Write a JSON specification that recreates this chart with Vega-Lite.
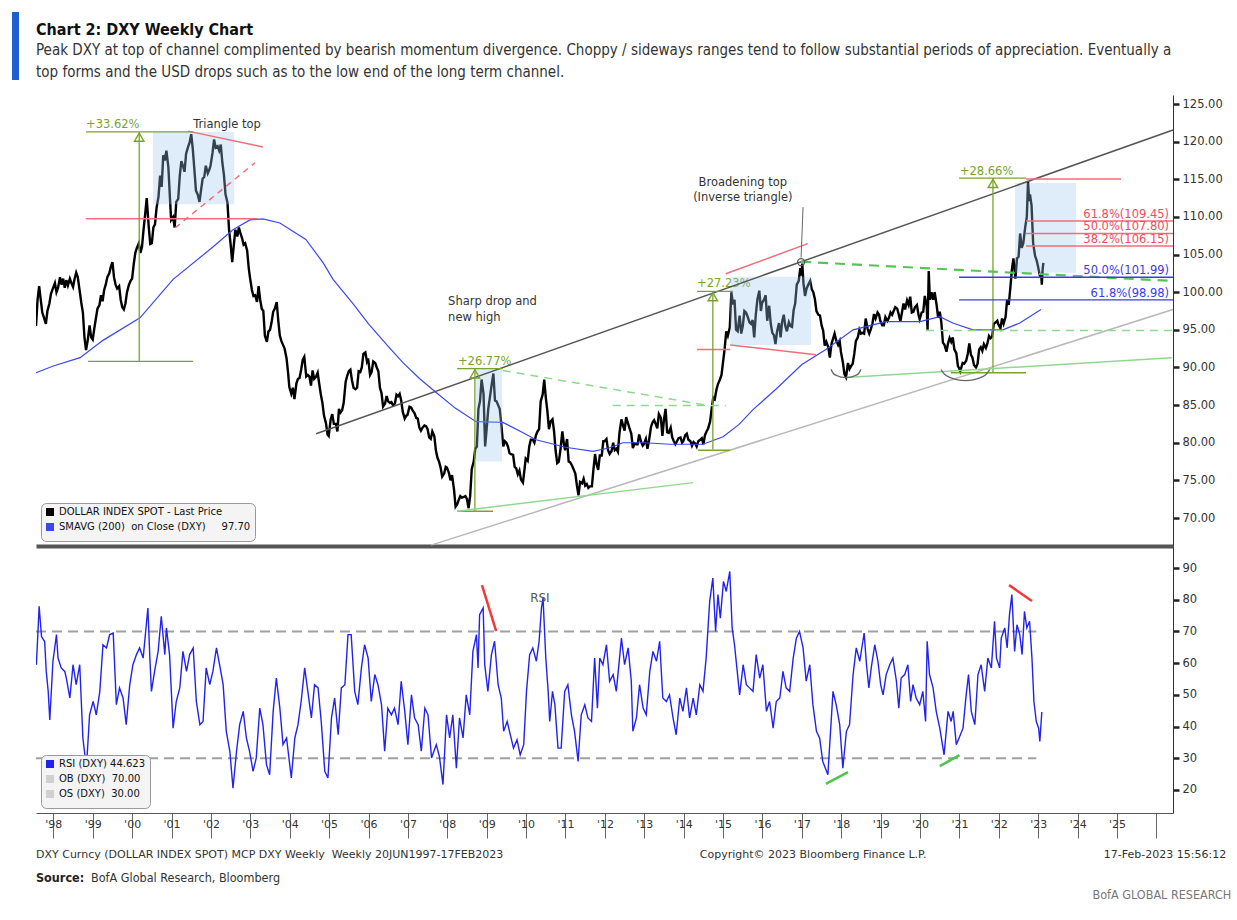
{
"$schema":"https://vega.github.io/schema/vega-lite/v6.json",
"background":"white",
"padding":{"left":12,"top":12,"right":0,"bottom":0},
"config":{"view":{"stroke":null},"font":"DejaVu Sans","axis":{"labelFont":"DejaVu Sans"},"legend":{"labelFont":"DejaVu Sans"}},
"resolve":{"scale":{"color":"independent"},"legend":{"color":"independent"}},
"datasets":{
"price":[{"t":1997.56,"v":95.5},{"t":1997.60,"v":99.0},{"t":1997.64,"v":100.8},{"t":1997.68,"v":99.0},{"t":1997.72,"v":97.3},{"t":1997.77,"v":96.5},{"t":1997.81,"v":95.8},{"t":1997.85,"v":97.5},{"t":1997.90,"v":98.5},{"t":1997.94,"v":99.8},{"t":1997.99,"v":100.5},
{"t":1998.04,"v":101.2},{"t":1998.08,"v":100.0},{"t":1998.12,"v":100.6},{"t":1998.17,"v":102.0},{"t":1998.21,"v":101.0},{"t":1998.25,"v":101.8},{"t":1998.29,"v":100.6},{"t":1998.33,"v":101.6},{"t":1998.37,"v":100.9},{"t":1998.42,"v":101.8},{"t":1998.46,"v":101.2},{"t":1998.50,"v":100.7},{"t":1998.54,"v":101.8},{"t":1998.58,"v":102.6},{"t":1998.62,"v":102.0},{"t":1998.66,"v":100.5},{"t":1998.71,"v":98.6},{"t":1998.75,"v":97.3},{"t":1998.79,"v":94.0},{"t":1998.83,"v":92.3},{"t":1998.87,"v":93.5},{"t":1998.92,"v":95.6},{"t":1998.96,"v":94.0},
{"t":1999.00,"v":93.7},{"t":1999.04,"v":95.2},{"t":1999.08,"v":96.5},{"t":1999.12,"v":97.8},{"t":1999.17,"v":98.3},{"t":1999.21,"v":99.6},{"t":1999.25,"v":98.8},{"t":1999.29,"v":100.3},{"t":1999.33,"v":101.0},{"t":1999.37,"v":102.0},{"t":1999.42,"v":102.5},{"t":1999.46,"v":103.4},{"t":1999.50,"v":104.0},{"t":1999.54,"v":102.0},{"t":1999.58,"v":101.0},{"t":1999.62,"v":100.5},{"t":1999.67,"v":100.8},{"t":1999.71,"v":99.0},{"t":1999.75,"v":98.0},{"t":1999.79,"v":97.7},{"t":1999.83,"v":98.5},{"t":1999.87,"v":100.0},{"t":1999.92,"v":101.0},{"t":1999.96,"v":101.5},
{"t":2000.00,"v":101.8},{"t":2000.04,"v":103.7},{"t":2000.08,"v":105.2},{"t":2000.12,"v":105.9},{"t":2000.17,"v":106.5},{"t":2000.21,"v":105.2},{"t":2000.25,"v":106.0},{"t":2000.29,"v":108.3},{"t":2000.33,"v":110.3},{"t":2000.37,"v":112.5},{"t":2000.42,"v":108.8},{"t":2000.46,"v":106.4},{"t":2000.50,"v":106.5},{"t":2000.54,"v":108.6},{"t":2000.58,"v":109.0},{"t":2000.62,"v":111.2},{"t":2000.67,"v":112.7},{"t":2000.71,"v":115.5},{"t":2000.75,"v":114.0},{"t":2000.79,"v":118.2},{"t":2000.83,"v":117.5},{"t":2000.87,"v":118.8},{"t":2000.92,"v":116.6},{"t":2000.96,"v":112.5},{"t":2000.99,"v":109.6},
{"t":2001.04,"v":110.0},{"t":2001.08,"v":108.6},{"t":2001.12,"v":112.0},{"t":2001.17,"v":112.4},{"t":2001.21,"v":115.5},{"t":2001.25,"v":117.4},{"t":2001.29,"v":116.8},{"t":2001.33,"v":116.0},{"t":2001.37,"v":118.4},{"t":2001.42,"v":119.3},{"t":2001.46,"v":119.9},{"t":2001.50,"v":121.0},{"t":2001.54,"v":119.0},{"t":2001.58,"v":116.3},{"t":2001.62,"v":113.5},{"t":2001.67,"v":112.9},{"t":2001.71,"v":112.0},{"t":2001.75,"v":113.6},{"t":2001.79,"v":115.1},{"t":2001.83,"v":115.3},{"t":2001.87,"v":116.8},{"t":2001.92,"v":115.8},{"t":2001.96,"v":116.3},{"t":2001.99,"v":116.8},
{"t":2002.04,"v":118.5},{"t":2002.08,"v":120.3},{"t":2002.12,"v":119.2},{"t":2002.17,"v":119.4},{"t":2002.21,"v":118.8},{"t":2002.25,"v":119.6},{"t":2002.29,"v":117.2},{"t":2002.33,"v":115.6},{"t":2002.37,"v":113.0},{"t":2002.42,"v":111.9},{"t":2002.46,"v":108.3},{"t":2002.50,"v":106.4},{"t":2002.54,"v":104.0},{"t":2002.58,"v":106.2},{"t":2002.62,"v":108.3},{"t":2002.67,"v":107.4},{"t":2002.71,"v":108.6},{"t":2002.75,"v":107.8},{"t":2002.79,"v":107.2},{"t":2002.83,"v":106.3},{"t":2002.87,"v":106.5},{"t":2002.92,"v":105.5},{"t":2002.96,"v":103.2},{"t":2002.99,"v":102.0},
{"t":2003.04,"v":100.3},{"t":2003.08,"v":99.5},{"t":2003.12,"v":99.6},{"t":2003.17,"v":98.7},{"t":2003.21,"v":100.8},{"t":2003.25,"v":99.0},{"t":2003.29,"v":97.8},{"t":2003.33,"v":97.5},{"t":2003.37,"v":94.2},{"t":2003.42,"v":93.4},{"t":2003.46,"v":94.8},{"t":2003.50,"v":95.0},{"t":2003.54,"v":96.0},{"t":2003.58,"v":97.4},{"t":2003.62,"v":97.8},{"t":2003.67,"v":98.7},{"t":2003.71,"v":96.2},{"t":2003.75,"v":94.2},{"t":2003.79,"v":93.5},{"t":2003.83,"v":93.0},{"t":2003.87,"v":92.5},{"t":2003.92,"v":91.2},{"t":2003.96,"v":89.2},{"t":2003.99,"v":87.4},
{"t":2004.04,"v":86.5},{"t":2004.08,"v":87.3},{"t":2004.12,"v":85.8},{"t":2004.17,"v":87.9},{"t":2004.21,"v":88.5},{"t":2004.25,"v":88.6},{"t":2004.29,"v":89.7},{"t":2004.33,"v":91.0},{"t":2004.37,"v":91.4},{"t":2004.42,"v":88.8},{"t":2004.46,"v":89.0},{"t":2004.50,"v":88.8},{"t":2004.54,"v":87.6},{"t":2004.58,"v":89.6},{"t":2004.62,"v":88.5},{"t":2004.67,"v":88.8},{"t":2004.71,"v":89.3},{"t":2004.75,"v":87.8},{"t":2004.79,"v":86.4},{"t":2004.83,"v":85.3},{"t":2004.87,"v":83.6},{"t":2004.92,"v":82.6},{"t":2004.96,"v":81.1},{"t":2004.99,"v":80.9},
{"t":2005.04,"v":83.1},{"t":2005.08,"v":83.8},{"t":2005.12,"v":82.5},{"t":2005.17,"v":82.5},{"t":2005.21,"v":81.5},{"t":2005.25,"v":84.5},{"t":2005.29,"v":84.0},{"t":2005.33,"v":84.3},{"t":2005.37,"v":85.3},{"t":2005.42,"v":88.1},{"t":2005.46,"v":88.9},{"t":2005.50,"v":89.5},{"t":2005.54,"v":89.7},{"t":2005.58,"v":88.3},{"t":2005.62,"v":87.3},{"t":2005.67,"v":87.1},{"t":2005.71,"v":87.3},{"t":2005.75,"v":89.5},{"t":2005.79,"v":89.4},{"t":2005.83,"v":90.0},{"t":2005.87,"v":91.8},{"t":2005.92,"v":92.0},{"t":2005.96,"v":90.8},{"t":2005.99,"v":91.2},
{"t":2006.04,"v":89.0},{"t":2006.08,"v":89.4},{"t":2006.12,"v":90.8},{"t":2006.17,"v":90.6},{"t":2006.21,"v":90.0},{"t":2006.25,"v":89.5},{"t":2006.29,"v":87.3},{"t":2006.33,"v":86.6},{"t":2006.37,"v":84.8},{"t":2006.42,"v":85.2},{"t":2006.46,"v":86.2},{"t":2006.50,"v":85.5},{"t":2006.54,"v":85.3},{"t":2006.58,"v":85.4},{"t":2006.62,"v":85.0},{"t":2006.67,"v":85.2},{"t":2006.71,"v":86.4},{"t":2006.75,"v":86.2},{"t":2006.79,"v":86.5},{"t":2006.83,"v":85.6},{"t":2006.87,"v":84.1},{"t":2006.92,"v":83.2},{"t":2006.96,"v":83.6},{"t":2006.99,"v":83.7},
{"t":2007.04,"v":84.8},{"t":2007.08,"v":84.7},{"t":2007.12,"v":84.3},{"t":2007.17,"v":83.9},{"t":2007.21,"v":83.3},{"t":2007.25,"v":83.2},{"t":2007.29,"v":82.0},{"t":2007.33,"v":81.6},{"t":2007.37,"v":82.0},{"t":2007.42,"v":82.3},{"t":2007.46,"v":82.2},{"t":2007.50,"v":81.8},{"t":2007.54,"v":80.7},{"t":2007.58,"v":80.5},{"t":2007.62,"v":81.5},{"t":2007.67,"v":80.9},{"t":2007.71,"v":79.0},{"t":2007.75,"v":78.0},{"t":2007.79,"v":77.5},{"t":2007.83,"v":76.7},{"t":2007.87,"v":75.5},{"t":2007.92,"v":75.9},{"t":2007.96,"v":76.8},{"t":2007.99,"v":76.7},
{"t":2008.04,"v":76.0},{"t":2008.08,"v":75.0},{"t":2008.12,"v":75.7},{"t":2008.17,"v":73.8},{"t":2008.21,"v":71.5},{"t":2008.25,"v":71.8},{"t":2008.29,"v":72.4},{"t":2008.33,"v":72.9},{"t":2008.37,"v":72.7},{"t":2008.42,"v":72.8},{"t":2008.46,"v":72.9},{"t":2008.50,"v":72.5},{"t":2008.54,"v":71.3},{"t":2008.58,"v":72.9},{"t":2008.62,"v":76.5},{"t":2008.67,"v":77.5},{"t":2008.71,"v":79.2},{"t":2008.75,"v":79.5},{"t":2008.79,"v":84.5},{"t":2008.83,"v":85.5},{"t":2008.87,"v":88.4},{"t":2008.92,"v":86.5},{"t":2008.96,"v":79.5},{"t":2008.99,"v":81.3},
{"t":2009.04,"v":84.5},{"t":2009.08,"v":86.0},{"t":2009.12,"v":87.5},{"t":2009.17,"v":89.2},{"t":2009.21,"v":85.6},{"t":2009.25,"v":85.5},{"t":2009.29,"v":85.0},{"t":2009.33,"v":84.5},{"t":2009.37,"v":82.5},{"t":2009.42,"v":79.5},{"t":2009.46,"v":80.2},{"t":2009.50,"v":80.0},{"t":2009.54,"v":79.5},{"t":2009.58,"v":78.6},{"t":2009.62,"v":78.5},{"t":2009.67,"v":78.4},{"t":2009.71,"v":76.8},{"t":2009.75,"v":76.6},{"t":2009.79,"v":75.8},{"t":2009.83,"v":76.3},{"t":2009.87,"v":75.1},{"t":2009.92,"v":74.7},{"t":2009.96,"v":76.5},{"t":2009.99,"v":77.9},
{"t":2010.04,"v":77.6},{"t":2010.08,"v":79.5},{"t":2010.12,"v":80.4},{"t":2010.17,"v":80.4},{"t":2010.21,"v":80.0},{"t":2010.25,"v":81.0},{"t":2010.29,"v":81.5},{"t":2010.33,"v":81.8},{"t":2010.37,"v":85.5},{"t":2010.42,"v":86.4},{"t":2010.46,"v":88.4},{"t":2010.50,"v":86.0},{"t":2010.54,"v":84.2},{"t":2010.58,"v":81.8},{"t":2010.62,"v":82.8},{"t":2010.67,"v":83.1},{"t":2010.71,"v":81.5},{"t":2010.75,"v":78.9},{"t":2010.79,"v":77.3},{"t":2010.83,"v":77.5},{"t":2010.87,"v":79.0},{"t":2010.92,"v":81.5},{"t":2010.96,"v":79.8},{"t":2010.99,"v":79.0},
{"t":2011.04,"v":80.5},{"t":2011.08,"v":77.5},{"t":2011.12,"v":77.4},{"t":2011.17,"v":76.9},{"t":2011.21,"v":76.4},{"t":2011.25,"v":75.9},{"t":2011.29,"v":74.3},{"t":2011.33,"v":73.0},{"t":2011.37,"v":74.8},{"t":2011.42,"v":74.6},{"t":2011.46,"v":75.2},{"t":2011.50,"v":74.3},{"t":2011.54,"v":74.5},{"t":2011.58,"v":74.0},{"t":2011.62,"v":74.2},{"t":2011.67,"v":74.2},{"t":2011.71,"v":76.5},{"t":2011.75,"v":78.5},{"t":2011.79,"v":77.1},{"t":2011.83,"v":76.4},{"t":2011.87,"v":78.3},{"t":2011.92,"v":78.3},{"t":2011.96,"v":80.2},{"t":2011.99,"v":80.2},
{"t":2012.04,"v":80.5},{"t":2012.08,"v":79.0},{"t":2012.12,"v":78.5},{"t":2012.17,"v":78.9},{"t":2012.21,"v":80.0},{"t":2012.25,"v":79.0},{"t":2012.29,"v":79.2},{"t":2012.33,"v":78.8},{"t":2012.37,"v":81.3},{"t":2012.42,"v":83.1},{"t":2012.46,"v":82.3},{"t":2012.50,"v":81.6},{"t":2012.54,"v":83.4},{"t":2012.58,"v":82.7},{"t":2012.62,"v":82.0},{"t":2012.67,"v":81.2},{"t":2012.71,"v":79.3},{"t":2012.75,"v":79.9},{"t":2012.79,"v":79.8},{"t":2012.83,"v":79.8},{"t":2012.87,"v":81.1},{"t":2012.92,"v":80.1},{"t":2012.96,"v":79.6},{"t":2012.99,"v":79.8},
{"t":2013.04,"v":80.5},{"t":2013.08,"v":79.2},{"t":2013.12,"v":80.3},{"t":2013.17,"v":82.1},{"t":2013.21,"v":82.7},{"t":2013.25,"v":83.0},{"t":2013.29,"v":82.5},{"t":2013.33,"v":81.9},{"t":2013.37,"v":83.8},{"t":2013.42,"v":83.3},{"t":2013.46,"v":80.9},{"t":2013.50,"v":83.1},{"t":2013.54,"v":84.5},{"t":2013.58,"v":81.4},{"t":2013.62,"v":81.3},{"t":2013.67,"v":82.0},{"t":2013.71,"v":80.7},{"t":2013.75,"v":80.2},{"t":2013.79,"v":79.8},{"t":2013.83,"v":80.2},{"t":2013.87,"v":80.6},{"t":2013.92,"v":80.7},{"t":2013.96,"v":80.0},{"t":2013.99,"v":80.2},
{"t":2014.04,"v":81.0},{"t":2014.08,"v":81.2},{"t":2014.12,"v":80.4},{"t":2014.17,"v":80.2},{"t":2014.21,"v":79.6},{"t":2014.25,"v":80.1},{"t":2014.29,"v":79.9},{"t":2014.33,"v":79.5},{"t":2014.37,"v":80.2},{"t":2014.42,"v":80.4},{"t":2014.46,"v":80.6},{"t":2014.50,"v":79.8},{"t":2014.54,"v":81.0},{"t":2014.58,"v":81.5},{"t":2014.62,"v":81.9},{"t":2014.67,"v":82.8},{"t":2014.71,"v":84.5},{"t":2014.75,"v":86.0},{"t":2014.79,"v":85.8},{"t":2014.83,"v":87.0},{"t":2014.87,"v":87.8},{"t":2014.92,"v":88.4},{"t":2014.96,"v":89.0},{"t":2014.99,"v":90.3},
{"t":2015.04,"v":92.5},{"t":2015.08,"v":94.8},{"t":2015.12,"v":94.2},{"t":2015.17,"v":95.3},{"t":2015.21,"v":100.0},{"t":2015.25,"v":98.4},{"t":2015.29,"v":99.0},{"t":2015.33,"v":95.0},{"t":2015.37,"v":94.8},{"t":2015.42,"v":96.9},{"t":2015.46,"v":94.5},{"t":2015.50,"v":95.5},{"t":2015.54,"v":97.5},{"t":2015.58,"v":97.3},{"t":2015.62,"v":96.8},{"t":2015.67,"v":96.0},{"t":2015.71,"v":95.8},{"t":2015.75,"v":96.3},{"t":2015.79,"v":94.0},{"t":2015.83,"v":97.0},{"t":2015.87,"v":99.0},{"t":2015.92,"v":100.2},{"t":2015.96,"v":97.5},{"t":2015.99,"v":98.6},
{"t":2016.04,"v":99.0},{"t":2016.08,"v":99.6},{"t":2016.12,"v":96.2},{"t":2016.17,"v":98.2},{"t":2016.21,"v":95.8},{"t":2016.25,"v":94.6},{"t":2016.29,"v":94.3},{"t":2016.33,"v":93.1},{"t":2016.37,"v":94.8},{"t":2016.42,"v":95.9},{"t":2016.46,"v":94.0},{"t":2016.50,"v":96.1},{"t":2016.54,"v":97.0},{"t":2016.58,"v":95.5},{"t":2016.62,"v":94.8},{"t":2016.67,"v":96.0},{"t":2016.71,"v":95.5},{"t":2016.75,"v":95.4},{"t":2016.79,"v":97.6},{"t":2016.83,"v":98.5},{"t":2016.87,"v":101.0},{"t":2016.92,"v":101.5},{"t":2016.96,"v":103.2},{"t":2016.99,"v":102.2},
{"t":2017.01,"v":103.8},{"t":2017.04,"v":101.2},{"t":2017.08,"v":99.5},{"t":2017.12,"v":100.5},{"t":2017.17,"v":101.1},{"t":2017.21,"v":101.5},{"t":2017.25,"v":100.4},{"t":2017.29,"v":100.0},{"t":2017.33,"v":99.1},{"t":2017.37,"v":97.5},{"t":2017.42,"v":97.0},{"t":2017.46,"v":96.9},{"t":2017.50,"v":95.6},{"t":2017.54,"v":94.9},{"t":2017.58,"v":92.9},{"t":2017.62,"v":93.4},{"t":2017.67,"v":92.7},{"t":2017.71,"v":91.3},{"t":2017.75,"v":93.1},{"t":2017.79,"v":93.8},{"t":2017.83,"v":94.5},{"t":2017.87,"v":93.6},{"t":2017.92,"v":93.0},{"t":2017.96,"v":93.5},{"t":2017.99,"v":92.1},
{"t":2018.04,"v":90.7},{"t":2018.08,"v":89.1},{"t":2018.12,"v":88.7},{"t":2018.17,"v":90.6},{"t":2018.21,"v":89.8},{"t":2018.25,"v":90.2},{"t":2018.29,"v":90.5},{"t":2018.33,"v":91.8},{"t":2018.37,"v":93.5},{"t":2018.42,"v":94.0},{"t":2018.46,"v":95.0},{"t":2018.50,"v":94.5},{"t":2018.54,"v":94.6},{"t":2018.58,"v":94.5},{"t":2018.62,"v":96.5},{"t":2018.67,"v":95.1},{"t":2018.71,"v":94.5},{"t":2018.75,"v":95.1},{"t":2018.79,"v":95.8},{"t":2018.83,"v":97.1},{"t":2018.87,"v":96.5},{"t":2018.92,"v":97.3},{"t":2018.96,"v":97.0},{"t":2018.99,"v":96.2},
{"t":2019.04,"v":95.6},{"t":2019.08,"v":95.6},{"t":2019.12,"v":96.7},{"t":2019.17,"v":96.2},{"t":2019.21,"v":96.6},{"t":2019.25,"v":97.3},{"t":2019.29,"v":97.0},{"t":2019.33,"v":97.5},{"t":2019.37,"v":98.0},{"t":2019.42,"v":97.8},{"t":2019.46,"v":97.0},{"t":2019.50,"v":96.1},{"t":2019.54,"v":97.3},{"t":2019.58,"v":98.5},{"t":2019.62,"v":97.7},{"t":2019.67,"v":98.9},{"t":2019.71,"v":98.3},{"t":2019.75,"v":99.4},{"t":2019.79,"v":97.3},{"t":2019.83,"v":97.4},{"t":2019.87,"v":98.0},{"t":2019.92,"v":98.3},{"t":2019.96,"v":97.0},{"t":2019.99,"v":96.4},
{"t":2020.04,"v":97.3},{"t":2020.08,"v":97.4},{"t":2020.12,"v":99.5},{"t":2020.17,"v":98.1},{"t":2020.19,"v":95.0},{"t":2020.22,"v":102.8},{"t":2020.25,"v":99.0},{"t":2020.29,"v":100.0},{"t":2020.33,"v":99.0},{"t":2020.37,"v":100.0},{"t":2020.42,"v":98.3},{"t":2020.46,"v":96.6},{"t":2020.50,"v":97.4},{"t":2020.54,"v":96.0},{"t":2020.58,"v":93.3},{"t":2020.62,"v":93.0},{"t":2020.67,"v":92.1},{"t":2020.71,"v":93.2},{"t":2020.75,"v":93.9},{"t":2020.79,"v":93.4},{"t":2020.83,"v":94.0},{"t":2020.87,"v":92.4},{"t":2020.92,"v":91.9},{"t":2020.96,"v":90.2},{"t":2020.99,"v":89.9},
{"t":2021.02,"v":89.5},{"t":2021.08,"v":90.6},{"t":2021.12,"v":90.5},{"t":2021.17,"v":90.9},{"t":2021.21,"v":91.8},{"t":2021.25,"v":93.2},{"t":2021.29,"v":91.7},{"t":2021.33,"v":91.3},{"t":2021.37,"v":90.3},{"t":2021.42,"v":90.0},{"t":2021.46,"v":90.5},{"t":2021.50,"v":92.4},{"t":2021.54,"v":92.7},{"t":2021.58,"v":92.2},{"t":2021.62,"v":93.1},{"t":2021.67,"v":92.6},{"t":2021.71,"v":93.2},{"t":2021.75,"v":94.2},{"t":2021.79,"v":93.9},{"t":2021.83,"v":94.1},{"t":2021.87,"v":95.8},{"t":2021.92,"v":96.0},{"t":2021.96,"v":96.2},{"t":2021.99,"v":95.7},
{"t":2022.04,"v":95.2},{"t":2022.08,"v":96.5},{"t":2022.12,"v":95.8},{"t":2022.17,"v":96.7},{"t":2022.21,"v":99.0},{"t":2022.25,"v":98.3},{"t":2022.29,"v":100.5},{"t":2022.33,"v":103.0},{"t":2022.37,"v":104.5},{"t":2022.42,"v":101.8},{"t":2022.46,"v":104.5},{"t":2022.50,"v":104.7},{"t":2022.54,"v":107.8},{"t":2022.58,"v":105.9},{"t":2022.62,"v":106.5},{"t":2022.67,"v":108.7},{"t":2022.71,"v":110.0},{"t":2022.74,"v":114.7},{"t":2022.77,"v":112.1},{"t":2022.79,"v":113.0},{"t":2022.83,"v":111.5},{"t":2022.87,"v":106.5},{"t":2022.92,"v":104.8},{"t":2022.96,"v":104.2},{"t":2022.99,"v":103.5},
{"t":2023.04,"v":102.2},{"t":2023.08,"v":101.9},{"t":2023.09,"v":101.0},{"t":2023.11,"v":103.0},{"t":2023.13,"v":103.9}],
"sma":[{"t":1997.56,"v":89.3},{"t":1998.0,"v":90.2},{"t":1998.68,"v":91.3},{"t":1999.26,"v":93.6},{"t":2000.2,"v":96.6},{"t":2001.04,"v":101.7},{"t":2002.05,"v":106.0},{"t":2002.56,"v":108.3},{"t":2002.99,"v":109.6},{"t":2003.32,"v":109.75},{"t":2003.75,"v":109.2},{"t":2004.41,"v":107.0},{"t":2004.85,"v":103.9},{"t":2005.1,"v":101.7},{"t":2005.6,"v":98.5},{"t":2006.0,"v":95.8},{"t":2006.5,"v":92.8},{"t":2006.88,"v":90.6},{"t":2007.3,"v":88.5},{"t":2007.71,"v":86.7},{"t":2008.2,"v":84.6},{"t":2008.73,"v":82.8},{"t":2009.41,"v":82.7},{"t":2009.9,"v":81.4},{"t":2010.25,"v":80.4},{"t":2011.0,"v":79.4},{"t":2011.7,"v":78.85},{"t":2012.1,"v":79.3},{"t":2012.46,"v":80.0},{"t":2013.0,"v":80.0},{"t":2013.65,"v":79.8},{"t":2014.49,"v":79.8},{"t":2015.0,"v":80.8},{"t":2015.4,"v":82.4},{"t":2015.76,"v":84.4},{"t":2016.34,"v":87.1},{"t":2017.0,"v":90.4},{"t":2017.61,"v":92.4},{"t":2018.3,"v":95.0},{"t":2019.13,"v":96.1},{"t":2020.0,"v":96.1},{"t":2020.5,"v":96.75},{"t":2020.83,"v":95.9},{"t":2021.34,"v":95.0},{"t":2022.1,"v":95.0},{"t":2022.53,"v":95.9},{"t":2023.07,"v":97.7}],
"rsi":[{"t":1997.57,"v":59.5},{"t":1997.64,"v":77.9},{"t":1997.70,"v":68.4},{"t":1997.78,"v":66.8},{"t":1997.82,"v":57.4},{"t":1997.87,"v":51.1},{"t":1997.91,"v":42.1},{"t":1997.99,"v":60.6},{"t":1998.08,"v":69.0},{"t":1998.12,"v":61.6},{"t":1998.20,"v":58.5},{"t":1998.29,"v":57.4},{"t":1998.33,"v":55.3},{"t":1998.42,"v":49.0},{"t":1998.50,"v":59.5},{"t":1998.58,"v":53.2},{"t":1998.67,"v":59.5},{"t":1998.75,"v":36.4},{"t":1998.84,"v":27.0},{"t":1998.92,"v":43.7},{"t":1999.01,"v":47.9},{"t":1999.09,"v":43.7},{"t":1999.18,"v":51.1},{"t":1999.26,"v":65.8},{"t":1999.35,"v":64.8},{"t":1999.43,"v":69.0},{"t":1999.52,"v":69.5},{"t":1999.60,"v":46.9},{"t":1999.68,"v":52.2},{"t":1999.77,"v":49.0},{"t":1999.85,"v":40.6},{"t":1999.94,"v":53.2},{"t":2000.02,"v":59.5},{"t":2000.11,"v":62.7},{"t":2000.19,"v":64.8},{"t":2000.28,"v":61.6},{"t":2000.40,"v":77.4},{"t":2000.45,"v":61.6},{"t":2000.49,"v":51.1},{"t":2000.57,"v":57.4},{"t":2000.66,"v":63.7},{"t":2000.74,"v":74.8},{"t":2000.83,"v":62.7},{"t":2000.87,"v":71.1},{"t":2000.95,"v":62.7},{"t":2001.04,"v":39.5},{"t":2001.12,"v":47.9},{"t":2001.21,"v":52.2},{"t":2001.29,"v":63.7},{"t":2001.38,"v":57.4},{"t":2001.46,"v":62.7},{"t":2001.55,"v":64.8},{"t":2001.63,"v":47.9},{"t":2001.72,"v":40.6},{"t":2001.80,"v":41.6},{"t":2001.88,"v":58.5},{"t":2001.97,"v":53.2},{"t":2002.05,"v":57.4},{"t":2002.14,"v":64.8},{"t":2002.22,"v":59.5},{"t":2002.31,"v":53.2},{"t":2002.39,"v":38.5},{"t":2002.48,"v":32.2},{"t":2002.56,"v":20.6},{"t":2002.65,"v":32.2},{"t":2002.73,"v":40.6},{"t":2002.82,"v":44.8},{"t":2002.90,"v":36.4},{"t":2002.98,"v":32.2},{"t":2003.07,"v":25.9},{"t":2003.15,"v":30.1},{"t":2003.24,"v":45.8},{"t":2003.32,"v":40.6},{"t":2003.41,"v":28.0},{"t":2003.49,"v":24.8},{"t":2003.58,"v":44.8},{"t":2003.66,"v":55.3},{"t":2003.75,"v":45.8},{"t":2003.83,"v":34.3},{"t":2003.92,"v":36.4},{"t":2004.04,"v":23.8},{"t":2004.13,"v":36.4},{"t":2004.21,"v":40.6},{"t":2004.29,"v":47.9},{"t":2004.38,"v":58.5},{"t":2004.46,"v":51.1},{"t":2004.55,"v":42.7},{"t":2004.63,"v":53.2},{"t":2004.72,"v":52.2},{"t":2004.80,"v":41.6},{"t":2004.89,"v":25.9},{"t":2004.97,"v":23.8},{"t":2005.06,"v":42.7},{"t":2005.14,"v":49.0},{"t":2005.23,"v":37.4},{"t":2005.31,"v":52.2},{"t":2005.40,"v":53.2},{"t":2005.48,"v":69.0},{"t":2005.56,"v":69.0},{"t":2005.65,"v":51.1},{"t":2005.73,"v":46.9},{"t":2005.82,"v":58.5},{"t":2005.90,"v":65.8},{"t":2005.99,"v":61.6},{"t":2006.07,"v":47.9},{"t":2006.16,"v":56.4},{"t":2006.24,"v":53.2},{"t":2006.33,"v":46.9},{"t":2006.41,"v":32.2},{"t":2006.49,"v":45.8},{"t":2006.58,"v":43.7},{"t":2006.66,"v":45.8},{"t":2006.75,"v":40.6},{"t":2006.83,"v":54.3},{"t":2006.92,"v":44.8},{"t":2007.00,"v":34.3},{"t":2007.09,"v":50.0},{"t":2007.17,"v":42.7},{"t":2007.26,"v":40.6},{"t":2007.34,"v":32.2},{"t":2007.43,"v":45.8},{"t":2007.51,"v":43.7},{"t":2007.60,"v":30.1},{"t":2007.72,"v":34.3},{"t":2007.80,"v":30.5},{"t":2007.89,"v":21.7},{"t":2007.98,"v":43.7},{"t":2008.06,"v":36.4},{"t":2008.14,"v":43.7},{"t":2008.23,"v":26.9},{"t":2008.31,"v":42.7},{"t":2008.40,"v":36.4},{"t":2008.48,"v":50.0},{"t":2008.57,"v":43.7},{"t":2008.65,"v":63.7},{"t":2008.74,"v":69.0},{"t":2008.78,"v":58.5},{"t":2008.82,"v":75.3},{"t":2008.91,"v":77.4},{"t":2008.95,"v":59.5},{"t":2009.03,"v":51.1},{"t":2009.12,"v":62.7},{"t":2009.20,"v":66.9},{"t":2009.29,"v":53.2},{"t":2009.37,"v":49.0},{"t":2009.43,"v":38.5},{"t":2009.52,"v":41.6},{"t":2009.60,"v":37.4},{"t":2009.68,"v":33.2},{"t":2009.77,"v":35.8},{"t":2009.85,"v":31.1},{"t":2009.94,"v":34.3},{"t":2010.01,"v":51.1},{"t":2010.09,"v":62.7},{"t":2010.17,"v":64.8},{"t":2010.26,"v":60.6},{"t":2010.33,"v":66.9},{"t":2010.39,"v":77.4},{"t":2010.43,"v":80.5},{"t":2010.50,"v":61.6},{"t":2010.56,"v":51.1},{"t":2010.60,"v":41.6},{"t":2010.67,"v":51.1},{"t":2010.73,"v":46.9},{"t":2010.81,"v":33.2},{"t":2010.89,"v":33.2},{"t":2010.98,"v":51.1},{"t":2011.06,"v":53.2},{"t":2011.15,"v":43.7},{"t":2011.23,"v":38.5},{"t":2011.32,"v":29.0},{"t":2011.40,"v":43.7},{"t":2011.49,"v":46.9},{"t":2011.57,"v":42.7},{"t":2011.66,"v":41.6},{"t":2011.74,"v":61.6},{"t":2011.81,"v":45.8},{"t":2011.87,"v":61.6},{"t":2011.95,"v":59.5},{"t":2012.04,"v":65.8},{"t":2012.12,"v":54.3},{"t":2012.21,"v":56.4},{"t":2012.29,"v":51.1},{"t":2012.42,"v":67.9},{"t":2012.50,"v":59.5},{"t":2012.59,"v":64.8},{"t":2012.67,"v":54.3},{"t":2012.71,"v":38.5},{"t":2012.80,"v":42.7},{"t":2012.88,"v":53.2},{"t":2012.97,"v":45.8},{"t":2013.05,"v":43.7},{"t":2013.14,"v":57.4},{"t":2013.22,"v":63.7},{"t":2013.31,"v":60.6},{"t":2013.39,"v":66.9},{"t":2013.47,"v":49.0},{"t":2013.56,"v":47.9},{"t":2013.64,"v":50.0},{"t":2013.73,"v":42.7},{"t":2013.81,"v":37.4},{"t":2013.90,"v":49.0},{"t":2013.98,"v":44.8},{"t":2014.07,"v":52.2},{"t":2014.15,"v":42.7},{"t":2014.24,"v":49.0},{"t":2014.32,"v":43.7},{"t":2014.41,"v":53.2},{"t":2014.49,"v":51.1},{"t":2014.57,"v":61.6},{"t":2014.66,"v":79.5},{"t":2014.74,"v":86.8},{"t":2014.81,"v":70.0},{"t":2014.87,"v":81.6},{"t":2014.93,"v":74.2},{"t":2015.01,"v":85.8},{"t":2015.08,"v":82.6},{"t":2015.17,"v":88.9},{"t":2015.23,"v":71.1},{"t":2015.29,"v":65.8},{"t":2015.35,"v":58.5},{"t":2015.42,"v":50.0},{"t":2015.51,"v":59.5},{"t":2015.59,"v":53.2},{"t":2015.67,"v":52.2},{"t":2015.76,"v":51.1},{"t":2015.84,"v":62.7},{"t":2015.93,"v":55.3},{"t":2016.01,"v":59.5},{"t":2016.10,"v":44.8},{"t":2016.18,"v":47.9},{"t":2016.27,"v":39.5},{"t":2016.35,"v":47.9},{"t":2016.44,"v":49.0},{"t":2016.52,"v":57.4},{"t":2016.60,"v":52.2},{"t":2016.69,"v":51.1},{"t":2016.78,"v":61.6},{"t":2016.86,"v":67.9},{"t":2016.94,"v":70.0},{"t":2017.03,"v":64.8},{"t":2017.11,"v":54.3},{"t":2017.20,"v":59.5},{"t":2017.28,"v":46.9},{"t":2017.37,"v":38.5},{"t":2017.45,"v":36.4},{"t":2017.53,"v":29.0},{"t":2017.66,"v":24.8},{"t":2017.79,"v":51.1},{"t":2017.87,"v":46.9},{"t":2017.96,"v":40.6},{"t":2018.04,"v":26.9},{"t":2018.13,"v":38.5},{"t":2018.21,"v":40.6},{"t":2018.30,"v":56.4},{"t":2018.38,"v":64.8},{"t":2018.47,"v":60.6},{"t":2018.58,"v":69.5},{"t":2018.64,"v":59.5},{"t":2018.70,"v":52.2},{"t":2018.76,"v":58.5},{"t":2018.85,"v":65.8},{"t":2018.93,"v":60.6},{"t":2019.00,"v":53.2},{"t":2019.06,"v":50.0},{"t":2019.14,"v":56.4},{"t":2019.23,"v":59.5},{"t":2019.31,"v":61.6},{"t":2019.40,"v":54.3},{"t":2019.46,"v":45.8},{"t":2019.52,"v":55.3},{"t":2019.61,"v":56.4},{"t":2019.69,"v":59.5},{"t":2019.76,"v":47.9},{"t":2019.82,"v":53.2},{"t":2019.90,"v":49.0},{"t":2019.99,"v":46.9},{"t":2020.07,"v":51.1},{"t":2020.14,"v":41.6},{"t":2020.18,"v":66.9},{"t":2020.24,"v":56.4},{"t":2020.33,"v":52.2},{"t":2020.41,"v":44.8},{"t":2020.50,"v":39.5},{"t":2020.61,"v":31.1},{"t":2020.71,"v":44.8},{"t":2020.79,"v":41.6},{"t":2020.84,"v":44.8},{"t":2020.92,"v":34.3},{"t":2020.99,"v":36.4},{"t":2021.09,"v":39.5},{"t":2021.17,"v":50.0},{"t":2021.23,"v":56.4},{"t":2021.30,"v":44.8},{"t":2021.39,"v":40.6},{"t":2021.47,"v":56.4},{"t":2021.55,"v":59.5},{"t":2021.64,"v":51.1},{"t":2021.72,"v":61.6},{"t":2021.81,"v":58.5},{"t":2021.89,"v":73.2},{"t":2021.94,"v":61.6},{"t":2022.02,"v":58.5},{"t":2022.06,"v":67.9},{"t":2022.15,"v":71.1},{"t":2022.21,"v":64.8},{"t":2022.27,"v":75.3},{"t":2022.33,"v":81.6},{"t":2022.40,"v":63.7},{"t":2022.46,"v":72.1},{"t":2022.53,"v":69.0},{"t":2022.59,"v":62.7},{"t":2022.65,"v":76.3},{"t":2022.71,"v":71.1},{"t":2022.78,"v":73.2},{"t":2022.84,"v":61.6},{"t":2022.89,"v":47.9},{"t":2022.95,"v":41.6},{"t":2023.01,"v":39.5},{"t":2023.04,"v":35.3},{"t":2023.09,"v":44.6}],
"rects":[{"t":2000.53,"t2":2002.59,"v":111.7,"v2":121.3},{"t":2008.73,"t2":2009.39,"v":77.5,"v2":89.85},{"t":2015.18,"t2":2017.23,"v":93.0,"v2":102.05},{"t":2022.41,"t2":2023.96,"v":102.6,"v2":114.5}],
"segs":[
{"k":"dark","t":2004.67,"v":81.2,"t2":2026.42,"v2":121.55},
{"k":"lgray","t":2007.59,"v":66.4,"t2":2026.42,"v2":97.7},
{"k":"red","t":2001.42,"v":121.4,"t2":2003.32,"v2":119.3},
{"k":"red","t":1998.83,"v":109.75,"t2":2003.2,"v2":109.75},
{"k":"red","t":2015.07,"v":102.45,"t2":2017.15,"v2":106.45},
{"k":"red","t":2014.34,"v":92.4,"t2":2015.18,"v2":92.4},
{"k":"red","t":2015.18,"v":93.0,"t2":2017.36,"v2":91.7},
{"k":"red","t":2022.69,"v":115.05,"t2":2025.1,"v2":115.05},
{"k":"red","t":2022.69,"v":109.45,"t2":2026.42,"v2":109.45},
{"k":"red","t":2022.69,"v":107.8,"t2":2026.42,"v2":107.8},
{"k":"red","t":2022.69,"v":106.15,"t2":2026.42,"v2":106.15},
{"k":"reddash","t":2001.09,"v":108.55,"t2":2003.12,"v2":117.2},
{"k":"olive","t":2000.18,"v":90.8,"t2":2000.18,"v2":121.3},
{"k":"olive","t":1998.83,"v":121.3,"t2":2001.55,"v2":121.3},
{"k":"olive","t":1998.88,"v":90.8,"t2":2001.55,"v2":90.8},
{"k":"olive","t":2008.7,"v":70.9,"t2":2008.7,"v2":89.85},
{"k":"olive","t":2008.25,"v":89.85,"t2":2009.41,"v2":89.85},
{"k":"olive","t":2008.25,"v":70.9,"t2":2009.16,"v2":70.9},
{"k":"olive","t":2014.74,"v":79.1,"t2":2014.74,"v2":100.1},
{"k":"olive","t":2014.34,"v":100.1,"t2":2015.25,"v2":100.1},
{"k":"olive","t":2014.36,"v":79.0,"t2":2015.18,"v2":79.0},
{"k":"olive","t":2021.85,"v":89.3,"t2":2021.85,"v2":115.15},
{"k":"olive","t":2020.99,"v":115.15,"t2":2022.69,"v2":115.15},
{"k":"olive","t":2020.78,"v":89.3,"t2":2022.69,"v2":89.3},
{"k":"lgreen","t":2008.25,"v":70.9,"t2":2014.24,"v2":74.7},
{"k":"lgreen","t":2018.12,"v":88.66,"t2":2026.39,"v2":91.3},
{"k":"lgreendash","t":2009.41,"v":89.6,"t2":2014.62,"v2":84.95},
{"k":"lgreendash","t":2012.2,"v":84.95,"t2":2015.07,"v2":84.95},
{"k":"lgreendash","t":2020.15,"v":94.9,"t2":2026.42,"v2":94.9},
{"k":"gdash","t":2016.98,"v":104.05,"t2":2026.39,"v2":101.5},
{"k":"blue","t":2020.99,"v":101.99,"t2":2026.42,"v2":101.99},
{"k":"blue","t":2020.99,"v":98.98,"t2":2026.42,"v2":98.98},
{"k":"pointer","t":2017.03,"v":111.3,"t2":2016.98,"v2":104.6}],
"tri":[{"t":2000.18,"v":120.6},{"t":2008.7,"v":89.15},{"t":2014.74,"v":99.4},{"t":2021.85,"v":114.45}],
"arcs":[{"id":"a","t":2017.74,"v":89.75},{"id":"a","t":2017.8,"v":89.2},{"id":"a","t":2017.9,"v":88.9},{"id":"a","t":2018.0,"v":88.72},{"id":"a","t":2018.12,"v":88.66},{"id":"a","t":2018.24,"v":88.72},{"id":"a","t":2018.34,"v":88.9},{"id":"a","t":2018.44,"v":89.2},{"id":"a","t":2018.5,"v":89.75},
{"id":"b","t":2020.53,"v":89.7},{"id":"b","t":2020.62,"v":89.1},{"id":"b","t":2020.77,"v":88.65},{"id":"b","t":2020.95,"v":88.35},{"id":"b","t":2021.15,"v":88.25},{"id":"b","t":2021.35,"v":88.35},{"id":"b","t":2021.53,"v":88.65},{"id":"b","t":2021.68,"v":89.1},{"id":"b","t":2021.77,"v":89.7}],
"labels":[
{"k":"olive","t":1998.83,"v":122.2,"text":"+33.62%"},
{"k":"olive","t":2008.27,"v":90.75,"text":"+26.77%"},
{"k":"olive","t":2014.34,"v":101.1,"text":"+27.23%"},
{"k":"olive","t":2021.01,"v":116.0,"text":"+28.66%"},
{"k":"note","t":2001.55,"v":122.2,"text":"Triangle top"},
{"k":"note","t":2008.02,"v":98.7,"text":"Sharp drop and"},
{"k":"note","t":2008.02,"v":96.6,"text":"new high"},
{"k":"notec","t":2015.5,"v":114.5,"text":"Broadening top"},
{"k":"notec","t":2015.5,"v":112.5,"text":"(Inverse triangle)"},
{"k":"redlab","t":2026.32,"v":109.45,"text":"61.8%(109.45)"},
{"k":"redlab","t":2026.32,"v":107.8,"text":"50.0%(107.80)"},
{"k":"redlab","t":2026.32,"v":106.15,"text":"38.2%(106.15)"},
{"k":"bluelab","t":2026.32,"v":101.99,"text":"50.0%(101.99)"},
{"k":"bluelab","t":2026.32,"v":98.98,"text":"61.8%(98.98)"}],
"rsisegs":[
{"k":"red","t":2008.88,"v":84.6,"t2":2009.24,"v2":70.1},
{"k":"red","t":2022.26,"v":84.6,"t2":2022.84,"v2":79.6},
{"k":"green","t":2017.61,"v":21.9,"t2":2018.17,"v2":25.6},
{"k":"green","t":2020.5,"v":27.5,"t2":2021.0,"v2":31.0},
{"k":"obos","t":1997.56,"v":70,"t2":2022.95,"v2":70},
{"k":"obos","t":1997.56,"v":30,"t2":2022.95,"v2":30}],
"rsilabels":[{"t":2010.35,"v":80.5,"text":"RSI"}]
},
"spacing":14,
"hconcat":[
{"width":7,"height":68,"data":{"values":[{}]},"mark":{"type":"rect","color":"#1b5fd1"},
 "encoding":{"x":{"datum":0,"type":"quantitative","scale":{"domain":[0,1]},"axis":null},"x2":{"datum":1},"y":{"datum":0,"type":"quantitative","scale":{"domain":[0,1]},"axis":null},"y2":{"datum":1}}},
{"vconcat":[
 {"width":1137,"height":83,"data":{"values":[{}]},"mark":{"type":"point","opacity":0},
  "title":{"text":"Chart 2: DXY Weekly Chart","subtitle":["Peak DXY at top of channel complimented by bearish momentum divergence. Choppy / sideways ranges tend to follow substantial periods of appreciation. Eventually a","top forms and the USD drops such as to the low end of the long term channel."],"anchor":"start","frame":"group","orient":"top","offset":-68,"font":"DejaVu Sans Condensed, sans-serif","fontSize":16,"fontWeight":"bold","color":"#111","subtitleFont":"DejaVu Sans Condensed, sans-serif","subtitleFontSize":15,"subtitleColor":"#333","subtitleLineHeight":22,"subtitlePadding":5}},
 {"width":1137,"height":451,
  "encoding":{
   "x":{"field":"t","type":"quantitative","scale":{"domain":[1997.56,2026.42],"nice":false,"zero":false},"axis":{"orient":"bottom","domain":true,"domainColor":"#555","domainWidth":4,"ticks":false,"labels":false,"grid":false,"title":null}},
   "y":{"field":"v","type":"quantitative","scale":{"domain":[66.28,126.2],"nice":false,"zero":false},
        "axis":{"orient":"right","values":[70,75,80,85,90,95,100,105,110,115,120,125],"format":".2f","title":null,"grid":false,"domainColor":"#333","tickColor":"#222","tickSize":6,"tickWidth":2.5,"labelColor":"#333","labelFontSize":11.5,"labelPadding":3}}},
  "layer":[
   {"data":{"name":"price"},"mark":{"type":"line","strokeWidth":2.4,"clip":true},
    "encoding":{"color":{"datum":"DOLLAR INDEX SPOT - Last Price","type":"nominal","scale":{"domain":["DOLLAR INDEX SPOT - Last Price","SMAVG (200)\u00a0\u00a0on Close (DXY)\u00a0\u00a0\u00a0\u00a0\u00a097.70"],"range":["#000000","#3a48f0"]},
      "legend":{"orient":"bottom-left","title":null,"symbolType":"square","symbolSize":16,"symbolStrokeWidth":4,"labelFontSize":10,"labelColor":"#111","fillColor":"#f4f4f4","strokeColor":"#999","cornerRadius":5,"padding":4,"rowPadding":-14,"offset":5,"labelLimit":400}}}},
   {"data":{"name":"sma"},"mark":{"type":"line","strokeWidth":1.2},
    "encoding":{"color":{"datum":"SMAVG (200)\u00a0\u00a0on Close (DXY)\u00a0\u00a0\u00a0\u00a0\u00a097.70","type":"nominal"}}},
   {"data":{"name":"labels"},"transform":[{"filter":"datum.k=='olive'"}],"mark":{"type":"text","align":"left","baseline":"middle","color":"#7aa32c","fontSize":11.5},"encoding":{"text":{"field":"text"}}},
   {"data":{"name":"rects"},"mark":{"type":"rect","color":"#9fc8f0","opacity":0.33},"encoding":{"x2":{"field":"t2"},"y2":{"field":"v2"}}},
   {"data":{"name":"segs"},"transform":[{"filter":"datum.k=='dark'"}],"mark":{"type":"rule","color":"#555555","strokeWidth":1.5},"encoding":{"x2":{"field":"t2"},"y2":{"field":"v2"}}},
   {"data":{"name":"segs"},"transform":[{"filter":"datum.k=='lgray'"}],"mark":{"type":"rule","color":"#b8b8b8","strokeWidth":1.5},"encoding":{"x2":{"field":"t2"},"y2":{"field":"v2"}}},
   {"data":{"name":"segs"},"transform":[{"filter":"datum.k=='red'"}],"mark":{"type":"rule","color":"#f26c7a","strokeWidth":1.5},"encoding":{"x2":{"field":"t2"},"y2":{"field":"v2"}}},
   {"data":{"name":"segs"},"transform":[{"filter":"datum.k=='reddash'"}],"mark":{"type":"rule","color":"#f26c7a","strokeWidth":1.5,"strokeDash":[6,5]},"encoding":{"x2":{"field":"t2"},"y2":{"field":"v2"}}},
   {"data":{"name":"segs"},"transform":[{"filter":"datum.k=='olive'"}],"mark":{"type":"rule","color":"#7aa32c","strokeWidth":1.3},"encoding":{"x2":{"field":"t2"},"y2":{"field":"v2"}}},
   {"data":{"name":"segs"},"transform":[{"filter":"datum.k=='lgreen'"}],"mark":{"type":"rule","color":"#8fd98f","strokeWidth":1.5},"encoding":{"x2":{"field":"t2"},"y2":{"field":"v2"}}},
   {"data":{"name":"segs"},"transform":[{"filter":"datum.k=='lgreendash'"}],"mark":{"type":"rule","color":"#8fd98f","strokeWidth":1.5,"strokeDash":[8,6]},"encoding":{"x2":{"field":"t2"},"y2":{"field":"v2"}}},
   {"data":{"name":"segs"},"transform":[{"filter":"datum.k=='gdash'"}],"mark":{"type":"rule","color":"#55c455","strokeWidth":2.2,"strokeDash":[10,7]},"encoding":{"x2":{"field":"t2"},"y2":{"field":"v2"}}},
   {"data":{"name":"segs"},"transform":[{"filter":"datum.k=='blue'"}],"mark":{"type":"rule","color":"#3a3af0","strokeWidth":1.4},"encoding":{"x2":{"field":"t2"},"y2":{"field":"v2"}}},
   {"data":{"name":"segs"},"transform":[{"filter":"datum.k=='pointer'"}],"mark":{"type":"rule","color":"#666666","strokeWidth":1},"encoding":{"x2":{"field":"t2"},"y2":{"field":"v2"}}},
   {"data":{"name":"arcs"},"mark":{"type":"line","color":"#666666","strokeWidth":1.3,"interpolate":"monotone"},"encoding":{"detail":{"field":"id"}}},
   {"data":{"name":"tri"},"mark":{"type":"point","shape":"triangle-up","filled":false,"color":"#7aa32c","size":90,"strokeWidth":1.4,"opacity":1}},
   {"data":{"values":[{"t":2016.98,"v":104.0}]},"mark":{"type":"point","shape":"circle","filled":false,"color":"#555555","size":50,"strokeWidth":1.2,"opacity":1}},
   {"data":{"name":"labels"},"transform":[{"filter":"datum.k=='note'"}],"mark":{"type":"text","align":"left","baseline":"middle","color":"#333","fontSize":11.5},"encoding":{"text":{"field":"text"}}},
   {"data":{"name":"labels"},"transform":[{"filter":"datum.k=='notec'"}],"mark":{"type":"text","align":"center","baseline":"middle","color":"#333","fontSize":11.5},"encoding":{"text":{"field":"text"}}},
   {"data":{"name":"labels"},"transform":[{"filter":"datum.k=='redlab'"}],"mark":{"type":"text","align":"right","baseline":"bottom","dy":-1,"color":"#ee4d5f","fontSize":11.5},"encoding":{"text":{"field":"text"}}},
   {"data":{"name":"labels"},"transform":[{"filter":"datum.k=='bluelab'"}],"mark":{"type":"text","align":"right","baseline":"bottom","dy":-1,"color":"#3a3af0","fontSize":11.5},"encoding":{"text":{"field":"text"}}}
  ]},
 {"width":1137,"height":267,
  "encoding":{
   "x":{"field":"t","type":"quantitative","scale":{"domain":[1997.56,2026.42],"nice":false,"zero":false},
        "axis":{"orient":"bottom","values":[1998,1999,2000,2001,2002,2003,2004,2005,2006,2007,2008,2009,2010,2011,2012,2013,2014,2015,2016,2017,2018,2019,2020,2021,2022,2023,2024,2025,2026],"labelExpr":"datum.value < 2026 ? \"'\" + format(datum.value % 100, '02d') : ''","tickSize":25,"tickColor":"#666","domainColor":"#555","labelPadding":-20,"labelDx":19.7,"labelAlign":"center","labelBaseline":"top","labelFontSize":11,"labelColor":"#333","grid":false,"title":null,"labelFlush":false,"labelOverlap":false}},
   "y":{"field":"v","type":"quantitative","scale":{"domain":[12.74,96.94],"nice":false,"zero":false},
        "axis":{"orient":"right","values":[20,30,40,50,60,70,80,90],"format":"d","title":null,"grid":false,"domainColor":"#333","tickColor":"#222","tickSize":6,"tickWidth":2.5,"labelColor":"#333","labelFontSize":11.5,"labelPadding":3}}},
  "layer":[
   {"data":{"name":"rsisegs"},"transform":[{"filter":"datum.k=='obos'"}],"mark":{"type":"rule","color":"#a0a0a0","strokeWidth":2,"strokeDash":[10,6]},"encoding":{"x2":{"field":"t2"},"y2":{"field":"v2"}}},
   {"data":{"name":"rsi"},"mark":{"type":"line","strokeWidth":1.4,"clip":true},
    "encoding":{"color":{"datum":"RSI (DXY) 44.623","type":"nominal","scale":{"domain":["RSI (DXY) 44.623","OB (DXY)\u00a0\u00a070.00","OS (DXY)\u00a0\u00a030.00"],"range":["#2222f0","#d0d0d0","#d0d0d0"]},
      "legend":{"orient":"bottom-left","title":null,"symbolType":"square","symbolSize":16,"symbolStrokeWidth":4,"labelFontSize":10,"labelColor":"#111","fillColor":"#f4f4f4","strokeColor":"#999","cornerRadius":5,"padding":4,"rowPadding":-14,"offset":5}}}},
   {"data":{"name":"rsisegs"},"transform":[{"filter":"datum.k=='red'"}],"mark":{"type":"rule","color":"#f03a3a","strokeWidth":2.5},"encoding":{"x2":{"field":"t2"},"y2":{"field":"v2"}}},
   {"data":{"name":"rsisegs"},"transform":[{"filter":"datum.k=='green'"}],"mark":{"type":"rule","color":"#4fc24f","strokeWidth":2.5},"encoding":{"x2":{"field":"t2"},"y2":{"field":"v2"}}},
   {"data":{"name":"rsilabels"},"mark":{"type":"text","align":"center","baseline":"middle","color":"#555","fontSize":12},"encoding":{"text":{"field":"text"}}}
  ]},
 {"width":1137,"height":75,
  "layer":[
   {"data":{"values":[{"text":"DXY Curncy (DOLLAR INDEX SPOT) MCP DXY Weekly\u00a0\u00a0Weekly 20JUN1997-17FEB2023"}]},"mark":{"type":"text","align":"left","baseline":"middle","fontSize":11,"color":"#333","clip":false},
    "encoding":{"x":{"datum":1997.56,"type":"quantitative","scale":{"domain":[1997.56,2026.42],"nice":false,"zero":false},"axis":null},"y":{"datum":17,"type":"quantitative","scale":{"domain":[0,75],"reverse":true},"axis":null},"text":{"field":"text"}}},
   {"data":{"values":[{"text":"Copyright\u00a9 2023 Bloomberg Finance L.P."}]},"mark":{"type":"text","align":"left","baseline":"middle","fontSize":11,"color":"#333","clip":false},
    "encoding":{"x":{"datum":2014.41,"type":"quantitative"},"y":{"datum":17,"type":"quantitative"},"text":{"field":"text"}}},
   {"data":{"values":[{"text":"17-Feb-2023 15:56:12"}]},"mark":{"type":"text","align":"right","baseline":"middle","fontSize":11,"color":"#333","clip":false},
    "encoding":{"x":{"datum":2027.77,"type":"quantitative"},"y":{"datum":17,"type":"quantitative"},"text":{"field":"text"}}},
   {"data":{"values":[{"text":"Source:"}]},"mark":{"type":"text","align":"left","baseline":"middle","fontSize":12.5,"fontWeight":"bold","color":"#222","font":"DejaVu Sans Condensed, sans-serif","clip":false},
    "encoding":{"x":{"datum":1997.56,"type":"quantitative"},"y":{"datum":42,"type":"quantitative"},"text":{"field":"text"}}},
   {"data":{"values":[{"text":"BofA Global Research, Bloomberg"}]},"mark":{"type":"text","align":"left","baseline":"middle","fontSize":12.5,"dx":55,"color":"#333","font":"DejaVu Sans Condensed, sans-serif","clip":false},
    "encoding":{"x":{"datum":1997.56,"type":"quantitative"},"y":{"datum":42,"type":"quantitative"},"text":{"field":"text"}}},
   {"data":{"values":[{"text":"BofA GLOBAL RESEARCH"}]},"mark":{"type":"text","align":"right","baseline":"middle","fontSize":12.5,"color":"#777","font":"DejaVu Sans Condensed, sans-serif","clip":false},
    "encoding":{"x":{"datum":2027.9,"type":"quantitative"},"y":{"datum":60,"type":"quantitative"},"text":{"field":"text"}}}
  ]}
 ],
 "spacing":0,
 "resolve":{"scale":{"color":"independent","x":"independent","y":"independent"},"legend":{"color":"independent"}}}
]
}
